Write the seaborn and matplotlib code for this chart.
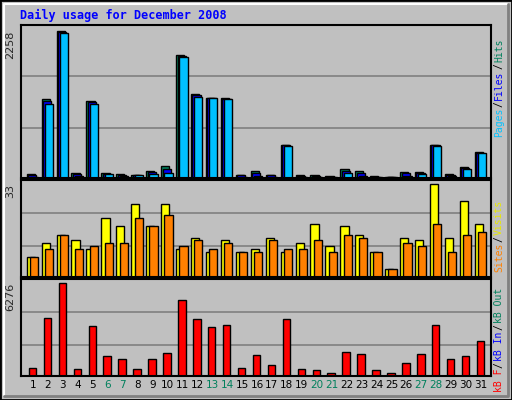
import numpy as np
import matplotlib
matplotlib.use("Agg")
import matplotlib.pyplot as plt
import seaborn as sns
import pandas as pd

days = list(range(1, 32))
hits = [66,1215,2258,82,1178,82,66,50,113,190,1885,1295,1234,1234,50,113,50,512,50,50,35,143,113,35,20,97,97,512,66,174,404]
files = [50,1180,2240,60,1160,60,50,45,90,140,1870,1270,1234,1220,40,80,40,500,35,35,20,110,80,20,15,75,80,500,45,160,390]
pages = [15,1140,2220,30,1140,55,30,45,55,70,1850,1240,1234,1210,15,25,20,490,15,20,10,80,25,10,10,30,65,490,30,140,380]
visits = [7,12,15,13,10,21,18,26,18,26,10,14,9,13,9,10,14,9,12,19,11,18,15,9,3,14,13,33,14,27,19]
sites = [7,10,15,10,11,12,12,21,18,22,11,13,10,12,9,9,13,10,10,13,9,15,14,9,3,12,11,19,9,15,16]
kbytes = [573,3939,6276,504,3389,1328,1122,504,1122,1534,5107,3870,3321,3458,573,1397,710,3870,504,435,229,1603,1466,435,229,847,1466,3458,1122,1328,2359]
weekends = [6,7,13,14,20,21,27,28]

sns.set_style("white")
plt.rcParams['font.family'] = ['DejaVu Sans']
BG = "#c0c0c0"
W, H = 512, 400
fig = plt.figure(figsize=(5.12, 4.0), dpi=100, facecolor=BG)

fig.add_artist(plt.Rectangle((0, 0), 1, 1, transform=fig.transFigure, fill=False, ec="black", lw=2))
fig.add_artist(plt.Line2D([4/W, 4/W, 1-4/W], [4/H, 1-4/H, 1-4/H], transform=fig.transFigure, color="white", lw=1.5))
fig.add_artist(plt.Line2D([4/W, 1-4/W, 1-4/W], [4/H, 4/H, 1-4/H], transform=fig.transFigure, color="#808080", lw=2))

def ax_at(x0, y0, x1, y1):
    return fig.add_axes([x0/W, 1-y1/H, (x1-x0)/W, (y1-y0)/H])

xl = (0.2, 31.67)
d = np.array(days)
axes_spec = [(25, 178), (180, 277), (279, 376)]
axs = [ax_at(21, a, 491, b) for a, b in axes_spec]

def style(ax, top, scale, label):
    ax.set_facecolor(BG)
    ax.set_xlim(*xl)
    ax.set_ylim(0, top * scale)
    for f in (0.338, 0.69):
        ax.axhline(top * f, color="#808080", lw=1.2, zorder=0)
    ax.set_xticks([]); ax.set_yticks([])
    for s in ax.spines.values():
        s.set_color("black"); s.set_linewidth(1.5)
    ax.text(-0.012, 1 - (scale - 1) / scale, label, transform=ax.transAxes, rotation=90,
            ha="right", va="top", fontsize=8, family="DejaVu Sans")

kw = dict(edgecolor="black", linewidth=1, align="edge")
a0 = axs[0]
a0.bar(d - 0.42, hits, width=0.55, color="#00805c", **kw)
a0.bar(d - 0.32, files, width=0.55, color="#0000ff", **kw)
a0.bar(d - 0.2, pages, width=0.55, color="#00c0ff", **kw)
style(a0, 2258, 1.04, "2258")

a1 = axs[1]
a1.bar(d - 0.42, visits, width=0.55, color="#ffff00", **kw)
a1.bar(d - 0.2, sites, width=0.55, color="#ff8000", **kw)
style(a1, 33, 1.045, "33")

a2 = axs[2]
df = pd.DataFrame({"day": d - 0.03, "kb": kbytes})
sns.barplot(data=df, x="day", y="kb", native_scale=True, width=0.5, color="#ff0000",
            edgecolor="black", linewidth=1, saturation=1, ax=a2)
a2.set_xlabel(""); a2.set_ylabel("")
style(a2, 6276, 1.045, "6276")

for n in days:
    a2.text(n, -0.04, str(n), transform=a2.get_xaxis_transform(), ha="center", va="top",
            fontsize=7.5, color="#00805c" if n in weekends else "black")

fig.text(20/W, 1-15/H, "Daily usage for December 2008", color="#0000ff", fontsize=8.5,
         fontweight="bold", family="DejaVu Sans Mono", va="center", ha="left")

renderer = fig.canvas.get_renderer()

def vlabel(parts, ybottom):
    y = ybottom
    for txt, col in parts:
        t = fig.text(499/W, 1-y/H, txt, rotation=90, color=col, fontsize=7,
                     family="DejaVu Sans Mono", ha="center", va="bottom")
        ext = t.get_window_extent(renderer)
        y -= ext.height + 1

vlabel([("Pages", "#00c0ff"), ("/", "black"), ("Files", "#0000ff"), ("/", "black"), ("Hits", "#00805c")], 137)
vlabel([("Sites", "#ff8000"), ("/", "black"), ("Visits", "#e8e800")], 272)
vlabel([("kB F", "#ff0000"), ("/", "black"), ("kB In", "#0000ff"), ("/", "black"), ("kB Out", "#00805c")], 392)

fig.savefig("out.png", dpi=100, facecolor=BG)
